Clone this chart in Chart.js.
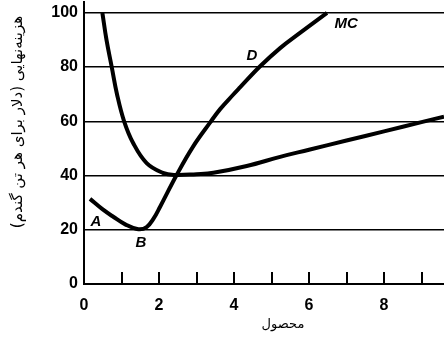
<!DOCTYPE html>
<html>
<head>
<meta charset="utf-8">
<script src="https://cdn.jsdelivr.net/npm/chart.js@4/dist/chart.umd.min.js"></script>
<style>
  html, body { margin: 0; padding: 0; background: #fff; }
  #wrap { width: 444px; height: 337px; position: relative; }
</style>
</head>
<body>
<div id="wrap"><canvas id="c" width="444" height="337"></canvas></div>
<script>
// Average cost curve (U-shaped, flattening out to the right)
const acX = [0.49, 0.6, 0.74, 0.88, 1.07, 1.31, 1.67, 2.1, 2.4, 3.0, 3.45, 4.34, 5.23, 6.0, 7.0, 8.0, 9.0, 9.6];
const acY = [100, 90, 80, 70, 60, 52, 44.6, 41, 40.2, 40.5, 41, 43.5, 46.9, 49.5, 52.9, 56.3, 59.7, 61.7];

// Marginal cost curve MC (dips to B, then rises steeply through D)
const mcX = [0.16, 0.5, 0.78, 1.1, 1.45, 1.67, 1.85, 2.03, 2.47, 2.9, 3.36, 3.63, 3.97, 4.16, 4.69, 5.23, 5.76, 6.48];
const mcY = [31.4, 27.5, 24.8, 22, 20.2, 21, 24, 28.5, 40.2, 50.5, 59.5, 64.5, 69.7, 72.5, 80.2, 87, 92.6, 100];

// Point labels on the curves
const markText = ['A', 'B', 'D', 'MC'];
const markX = [0.32, 1.52, 4.48, 6.99];
const markY = [22.9, 15.1, 84.1, 96];

// Axis ticks
const xTickValues = [0, 1, 2, 3, 4, 5, 6, 7, 8, 9];
const yTickValues = [0, 20, 40, 60, 80, 100];

const yTitle = 'هزینه‌نهایی (دلار برای هر تن گندم)';
const xTitle = 'محصول';

const toPoints = (xs, ys) => xs.map((x, i) => ({ x, y: ys[i] }));

const decorations = {
  id: 'decorations',
  afterDraw(chart) {
    const { ctx, scales: { x, y } } = chart;
    const bottom = y.getPixelForValue(0);
    ctx.save();
    // short upward tick marks on the horizontal axis
    ctx.strokeStyle = '#000';
    ctx.lineWidth = 2;
    xTickValues.filter(v => v > 0).forEach(v => {
      const px = Math.round(x.getPixelForValue(v));
      ctx.beginPath();
      ctx.moveTo(px, bottom);
      ctx.lineTo(px, bottom - 12);
      ctx.stroke();
    });
    // curve labels
    ctx.fillStyle = '#000';
    ctx.font = 'italic bold 15px "Liberation Sans", Arial, sans-serif';
    ctx.textAlign = 'center';
    ctx.textBaseline = 'middle';
    markText.forEach((t, i) => {
      ctx.fillText(t, x.getPixelForValue(markX[i]), y.getPixelForValue(markY[i]));
    });
    // axis titles
    ctx.direction = 'rtl';
    ctx.textAlign = 'center';
    ctx.font = '13px "DejaVu Sans", sans-serif';
    ctx.fillText(xTitle, 283, 325);
    ctx.font = '15px "DejaVu Sans", sans-serif';
    ctx.translate(18, 122);
    ctx.rotate(-Math.PI / 2);
    ctx.fillText(yTitle, 0, 0);
    ctx.restore();
  }
};

const curveStyle = {
  borderColor: '#000',
  borderWidth: 4,
  pointRadius: 0,
  tension: 0.4,
  fill: false
};

new Chart(document.getElementById('c'), {
  type: 'line',
  data: {
    datasets: [
      Object.assign({ data: toPoints(acX, acY) }, curveStyle),
      Object.assign({ data: toPoints(mcX, mcY) }, curveStyle)
    ]
  },
  options: {
    responsive: false,
    animation: false,
    layout: { padding: { top: 2, right: 0, left: 0, bottom: 0 } },
    plugins: { legend: { display: false }, tooltip: { enabled: false } },
    scales: {
      x: {
        type: 'linear',
        min: 0,
        max: 9.6,
        afterBuildTicks: s => { s.ticks = xTickValues.map(v => ({ value: v })); },
        afterFit: s => { s.height = 53; s.paddingRight = 0; s.paddingLeft = 0; },
        border: { display: true, color: '#000', width: 2 },
        grid: { display: false },
        ticks: {
          color: '#000',
          padding: 4,
          maxRotation: 0,
          autoSkip: false,
          font: { family: '"Liberation Sans", Arial, sans-serif', size: 16, weight: 'bold' },
          callback: v => (v % 2 === 0 ? String(v) : '')
        }
      },
      y: {
        type: 'linear',
        min: 0,
        max: 104,
        afterBuildTicks: s => { s.ticks = yTickValues.map(v => ({ value: v })); },
        afterFit: s => { s.width = 84; s.paddingTop = 0; s.paddingBottom = 0; },
        border: { display: true, color: '#000', width: 2 },
        grid: { color: '#000', lineWidth: 1.5, drawTicks: false },
        ticks: {
          color: '#000',
          padding: 6,
          font: { family: '"Liberation Sans", Arial, sans-serif', size: 16, weight: 'bold' }
        }
      }
    }
  },
  plugins: [decorations]
});
</script>
</body>
</html>
